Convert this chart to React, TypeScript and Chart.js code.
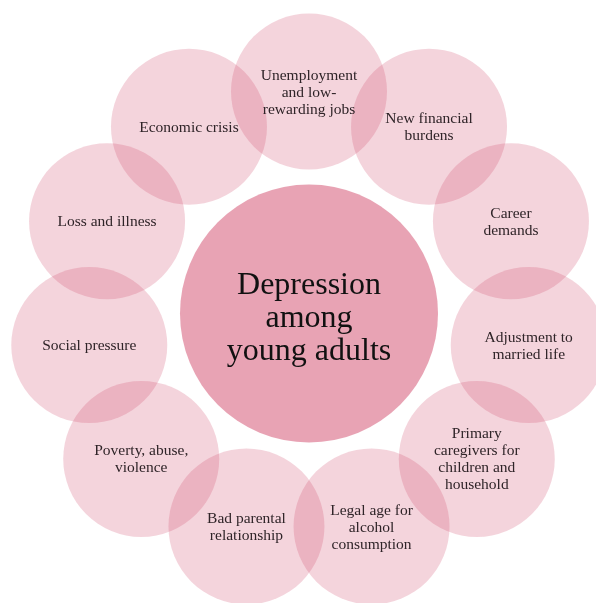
import React, { useEffect, useRef } from "react";
import { Chart, registerables } from "chart.js";

Chart.register(...registerables);

const centerLabel: string[] = ["Depression", "among", "young adults"];

// Outer causes, clockwise starting from the top
const causes: string[][] = [
  ["Unemployment", "and low-", "rewarding jobs"],
  ["New financial", "burdens"],
  ["Career", "demands"],
  ["Adjustment to", "married life"],
  ["Primary", "caregivers for", "children and", "household"],
  ["Legal age for", "alcohol", "consumption"],
  ["Bad parental", "relationship"],
  ["Poverty, abuse,", "violence"],
  ["Social pressure"],
  ["Loss and illness"],
  ["Economic crisis"],
];

const W = 596;
const H = 603;
const CX = 309; // pixel position of diagram centre
const CY = 313.5;
const RING = 222; // pixels per unit (ring radius)
const OUTER_R = 78;
const CENTER_R = 129;

const BASE = "209, 71, 105";

export default function App() {
  const ref = useRef<HTMLCanvasElement>(null);

  useEffect(() => {
    document.body.style.margin = "0";
    const canvas = ref.current;
    if (!canvas) return;

    const n = causes.length;
    const outerPoints = causes.map((_, i) => {
      const a = Math.PI / 2 - (i * 2 * Math.PI) / n;
      return { x: Math.cos(a), y: Math.sin(a), r: OUTER_R };
    });

    const labelPlugin = {
      id: "labels",
      afterDatasetsDraw(chart: any) {
        const ctx = chart.ctx;
        ctx.save();
        ctx.textAlign = "center";
        ctx.textBaseline = "middle";
        const meta = chart.getDatasetMeta(0);
        ctx.fillStyle = "#2f2428";
        ctx.font = "15.5px 'Liberation Serif', serif";
        meta.data.forEach((el: any, i: number) => {
          const lines = causes[i];
          const lh = 17;
          const y0 = el.y - ((lines.length - 1) * lh) / 2 + 1;
          lines.forEach((t, k) => ctx.fillText(t, el.x, y0 + k * lh));
        });
        const cm = chart.getDatasetMeta(1);
        const c = cm.data[0];
        ctx.fillStyle = "#111";
        ctx.font = "32px 'Liberation Serif', serif";
        const lh = 33;
        const y0 = c.y - ((centerLabel.length - 1) * lh) / 2 + 5;
        centerLabel.forEach((t, k) => ctx.fillText(t, c.x, y0 + k * lh));
        ctx.restore();
      },
    };

    const chart = new Chart(canvas, {
      type: "bubble",
      data: {
        datasets: [
          {
            data: outerPoints,
            backgroundColor: `rgba(${BASE}, 0.23)`,
            borderWidth: 0,
            clip: false,
          } as any,
          {
            data: [{ x: 0, y: 0, r: CENTER_R }],
            backgroundColor: `rgba(${BASE}, 0.5)`,
            borderWidth: 0,
            clip: false,
          } as any,
        ],
      },
      options: {
        responsive: false,
        animation: false,
        layout: { padding: 0, autoPadding: false },
        plugins: {
          legend: { display: false },
          tooltip: { enabled: false },
        },
        events: [],
        scales: {
          x: {
            type: "linear",
            display: false,
            min: -CX / RING,
            max: (W - CX) / RING,
          },
          y: {
            type: "linear",
            display: false,
            min: -(H - CY) / RING,
            max: CY / RING,
          },
        },
      },
      plugins: [labelPlugin],
    });

    return () => chart.destroy();
  }, []);

  return (
    <canvas
      ref={ref}
      width={W}
      height={H}
      style={{ display: "block", width: W, height: H }}
    />
  );
}
